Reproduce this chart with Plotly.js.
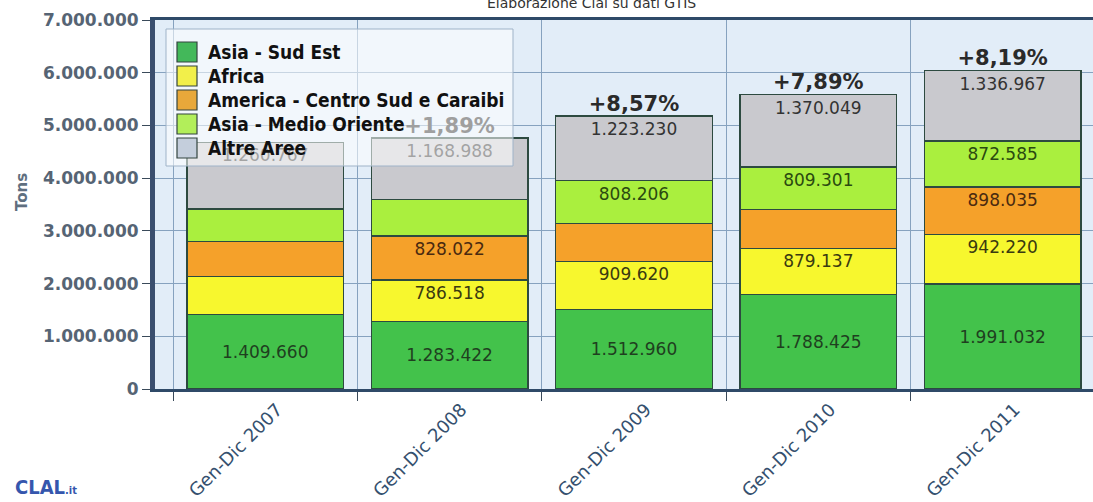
<!DOCTYPE html>
<html>
<head>
<meta charset="utf-8">
<script src="https://cdn.plot.ly/plotly-3.0.1.min.js"></script>
<style>html,body{margin:0;padding:0;background:#fff;}#chart{width:1093px;height:502px;}</style>
</head>
<body>
<div id="chart"></div>
<script>
// ---- data ----
var categories = ['Gen-Dic 2007', 'Gen-Dic 2008', 'Gen-Dic 2009', 'Gen-Dic 2010', 'Gen-Dic 2011'];
var seriesNames = ['Asia - Sud Est', 'Africa', 'America - Centro Sud e Caraibi', 'Asia - Medio Oriente', 'Altre Aree'];
var asiaSudEst       = [1409660, 1283422, 1512960, 1788425, 1991032];
var africa           = [725000, 786518, 909620, 879137, 942220];
var americaCentroSud = [661000, 828022, 721000, 736000, 898035];
var asiaMedioOriente = [621000, 699000, 808206, 809301, 872585];
var altreAree        = [1260767, 1168988, 1223230, 1370049, 1336967];
// which segment values are printed on the bars in the original (1 = shown)
var labelAsiaSudEst   = [1, 1, 1, 1, 1];
var labelAfrica       = [0, 1, 1, 1, 1];
var labelAmerica      = [0, 1, 0, 0, 1];
var labelMedioOriente = [0, 0, 1, 1, 1];
var labelAltre        = [1, 1, 1, 1, 1];
var growthLabels = ['', '+1,89%', '+8,57%', '+7,89%', '+8,19%'];
var yTickValues = [0, 1000000, 2000000, 3000000, 4000000, 5000000, 6000000, 7000000];

// ---- helpers ----
function fmt(v) { return String(Math.round(v)).replace(/\B(?=(\d{3})+(?!\d))/g, '.'); }
function labels(vals, mask) { return vals.map(function (v, i) { return mask[i] ? fmt(v) : ''; }); }

var seriesValues = [asiaSudEst, africa, americaCentroSud, asiaMedioOriente, altreAree];
var seriesMasks = [labelAsiaSudEst, labelAfrica, labelAmerica, labelMedioOriente, labelAltre];
var colors = ['#43c24b', '#f7f72e', '#f5a12a', '#aaef3e', '#c9c9ce'];
var legendColors = ['#43b85a', '#f2ef4a', '#e8a83a', '#b2ee5a', '#c4cedc'];
var textColors = ['#1f3f1f', '#3a3a10', '#4a2a10', '#2a4a10', '#333333'];
var anchors = ['middle', 'end', 'end', 'end', 'end'];

var traces = seriesValues.map(function (vals, k) {
  return {
    type: 'bar',
    name: seriesNames[k],
    x: categories,
    y: vals,
    text: labels(vals, seriesMasks[k]),
    textposition: 'inside',
    insidetextanchor: anchors[k],
    textangle: 0,
    constraintext: 'none',
    textfont: {family: 'DejaVu Sans', size: 17, color: textColors[k]},
    marker: {color: colors[k], line: {color: '#2d4a40', width: 1.5}},
    hoverinfo: 'skip',
    showlegend: false
  };
});

var totals = categories.map(function (c, i) {
  return seriesValues.reduce(function (s, arr) { return s + arr[i]; }, 0);
});

traces.push({
  type: 'scatter',
  mode: 'text',
  x: categories,
  y: totals,
  text: growthLabels,
  textposition: 'top center',
  textfont: {family: 'DejaVu Sans', size: 21, weight: 'bold', color: '#2a2a2a'},
  showlegend: false,
  hoverinfo: 'skip',
  cliponaxis: false
});

var plotLeft = 155, plotRight = 1093, plotTop = 20, plotBottom = 389;
var pw = plotRight - plotLeft, ph = plotBottom - plotTop;
function px(x) { return (x - plotLeft) / pw; }
function py(y) { return (plotBottom - y) / ph; }

// custom legend (box, swatches, names)
var shapes = [{
  type: 'rect', xref: 'paper', yref: 'paper', layer: 'above',
  x0: px(166), x1: px(513), y0: py(166), y1: py(29),
  fillcolor: 'rgba(255,255,255,0.55)', line: {color: '#9fb3c8', width: 1}
}];
var annotations = [];
seriesNames.forEach(function (name, k) {
  var cy = 52 + 24 * k;
  shapes.push({
    type: 'rect', xref: 'paper', yref: 'paper', layer: 'above',
    x0: px(177), x1: px(197), y0: py(cy + 10), y1: py(cy - 10),
    fillcolor: legendColors[k], line: {color: '#33443f', width: 1.2}
  });
  annotations.push({
    text: name, xref: 'paper', yref: 'paper', x: px(206), y: py(cy),
    xanchor: 'left', yanchor: 'middle', showarrow: false,
    font: {family: 'DejaVu Sans Condensed, DejaVu Sans', size: 19, weight: 'bold', color: '#111111'}
  });
});

annotations.push(
  {text: 'Elaborazione Clal su dati GTIS', xref: 'paper', yref: 'paper',
   x: px(591), y: py(3), xanchor: 'center', yanchor: 'middle', showarrow: false,
   font: {family: 'DejaVu Sans', size: 14, color: '#333333'}},
  {text: 'Tons', xref: 'paper', yref: 'paper', x: px(22), y: py(192),
   xanchor: 'center', yanchor: 'middle', textangle: -90, showarrow: false,
   font: {family: 'DejaVu Sans', size: 15, weight: 'bold', color: '#5f6f80'}},
  {text: '<b>CLAL</b><span style="font-size:11px"><b>.it</b></span>', xref: 'paper', yref: 'paper',
   x: px(46), y: py(487), xanchor: 'center', yanchor: 'middle', showarrow: false,
   font: {family: 'DejaVu Sans Condensed, DejaVu Sans', size: 20, color: '#3556ad'}}
);

var layout = {
  width: 1093,
  height: 502,
  margin: {l: plotLeft, r: 1093 - plotRight, t: plotTop, b: 502 - plotBottom, pad: 0},
  paper_bgcolor: '#ffffff',
  plot_bgcolor: '#e2edf8',
  separators: ',.',
  barmode: 'stack',
  bargap: 0.15,
  showlegend: false,
  xaxis: {
    type: 'category',
    range: [-0.598, 4.49],
    tickson: 'boundaries',
    ticks: 'outside', ticklen: 9, tickwidth: 1, tickcolor: '#3a4a5a',
    showgrid: true, gridcolor: '#86a2bf', gridwidth: 1,
    showline: true, linecolor: '#2f4a68', linewidth: 3, mirror: true,
    tickangle: -45,
    ticklabelshift: 12,
    tickfont: {family: 'DejaVu Sans', size: 18, color: '#35506e'},
    fixedrange: true
  },
  yaxis: {
    range: [0, 7000000],
    tickvals: yTickValues,
    tickformat: ',d',
    ticks: 'outside', ticklen: 8, tickwidth: 1, tickcolor: '#3a4a5a',
    showgrid: true, gridcolor: '#86a2bf', gridwidth: 1,
    showline: true, linecolor: '#3b4f6f', linewidth: 5,
    zeroline: false,
    tickfont: {family: 'DejaVu Sans', size: 17, weight: 'bold', color: '#566474'},
    fixedrange: true
  },
  shapes: shapes,
  annotations: annotations
};

Plotly.newPlot('chart', traces, layout, {displayModeBar: false, staticPlot: true});
</script>
</body>
</html>
